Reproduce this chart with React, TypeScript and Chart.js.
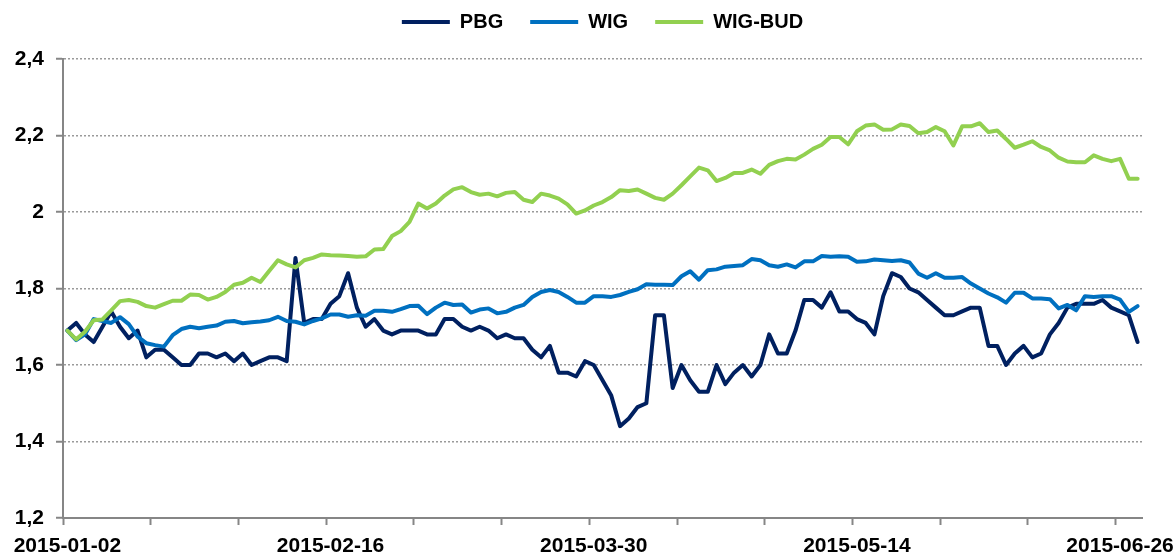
import React, { useEffect, useRef } from "react";
import { Chart, registerables } from "chart.js";

Chart.register(...registerables);

// Trading days (categories)
const dates: string[] = [
  "2015-01-02", "2015-01-05", "2015-01-07", "2015-01-08", "2015-01-09", "2015-01-12", "2015-01-13", "2015-01-14",
  "2015-01-15", "2015-01-16", "2015-01-19", "2015-01-20", "2015-01-21", "2015-01-22", "2015-01-23", "2015-01-26",
  "2015-01-27", "2015-01-28", "2015-01-29", "2015-01-30",
  "2015-02-02", "2015-02-03", "2015-02-04", "2015-02-05", "2015-02-06", "2015-02-09", "2015-02-10", "2015-02-11",
  "2015-02-12", "2015-02-13", "2015-02-16", "2015-02-17", "2015-02-18", "2015-02-19", "2015-02-20", "2015-02-23",
  "2015-02-24", "2015-02-25", "2015-02-26", "2015-02-27",
  "2015-03-02", "2015-03-03", "2015-03-04", "2015-03-05", "2015-03-06", "2015-03-09", "2015-03-10", "2015-03-11",
  "2015-03-12", "2015-03-13", "2015-03-16", "2015-03-17", "2015-03-18", "2015-03-19", "2015-03-20", "2015-03-23",
  "2015-03-24", "2015-03-25", "2015-03-26", "2015-03-27", "2015-03-30", "2015-03-31",
  "2015-04-01", "2015-04-02", "2015-04-07", "2015-04-08", "2015-04-09", "2015-04-10", "2015-04-13", "2015-04-14",
  "2015-04-15", "2015-04-16", "2015-04-17", "2015-04-20", "2015-04-21", "2015-04-22", "2015-04-23", "2015-04-24",
  "2015-04-27", "2015-04-28", "2015-04-29", "2015-04-30",
  "2015-05-04", "2015-05-05", "2015-05-06", "2015-05-07", "2015-05-08", "2015-05-11", "2015-05-12", "2015-05-13",
  "2015-05-14", "2015-05-15", "2015-05-18", "2015-05-19", "2015-05-20", "2015-05-21", "2015-05-22", "2015-05-25",
  "2015-05-26", "2015-05-27", "2015-05-28", "2015-05-29",
  "2015-06-01", "2015-06-02", "2015-06-03", "2015-06-05", "2015-06-08", "2015-06-09", "2015-06-10", "2015-06-11",
  "2015-06-12", "2015-06-15", "2015-06-16", "2015-06-17", "2015-06-18", "2015-06-19", "2015-06-22", "2015-06-23",
  "2015-06-24", "2015-06-25", "2015-06-26", "2015-06-29", "2015-06-30",
];

const pbg: number[] = [
  1.69, 1.71, 1.68, 1.66, 1.70, 1.74, 1.70, 1.67, 1.69, 1.62,
  1.64, 1.64, 1.62, 1.60, 1.60, 1.63, 1.63, 1.62, 1.63, 1.61,
  1.63, 1.60, 1.61, 1.62, 1.62, 1.61, 1.88, 1.71, 1.72, 1.72,
  1.76, 1.78, 1.84, 1.75, 1.70, 1.72, 1.69, 1.68, 1.69, 1.69,
  1.69, 1.68, 1.68, 1.72, 1.72, 1.70, 1.69, 1.70, 1.69, 1.67,
  1.68, 1.67, 1.67, 1.64, 1.62, 1.65, 1.58, 1.58, 1.57, 1.61,
  1.60, 1.56, 1.52, 1.44, 1.46, 1.49, 1.50, 1.73, 1.73, 1.54,
  1.60, 1.56, 1.53, 1.53, 1.60, 1.55, 1.58, 1.60, 1.57, 1.60,
  1.68, 1.63, 1.63, 1.69, 1.77, 1.77, 1.75, 1.79, 1.74, 1.74,
  1.72, 1.71, 1.68, 1.78, 1.84, 1.83, 1.80, 1.79, 1.77, 1.75,
  1.73, 1.73, 1.74, 1.75, 1.75, 1.65, 1.65, 1.60, 1.63, 1.65,
  1.62, 1.63, 1.68, 1.71, 1.75, 1.76, 1.76, 1.76, 1.77, 1.75,
  1.74, 1.73, 1.66,
];

const wig: number[] = [
  1.690, 1.665, 1.680, 1.720, 1.715, 1.710, 1.725, 1.707, 1.674, 1.657,
  1.652, 1.648, 1.678, 1.694, 1.700, 1.696, 1.700, 1.703, 1.713, 1.715,
  1.709, 1.712, 1.714, 1.717, 1.726, 1.715, 1.713, 1.706, 1.715, 1.722,
  1.732, 1.732, 1.726, 1.730, 1.729, 1.742, 1.742, 1.739, 1.746, 1.754,
  1.755, 1.733, 1.750, 1.763, 1.757, 1.758, 1.737, 1.745, 1.748, 1.735,
  1.739, 1.750, 1.757, 1.778, 1.791, 1.796, 1.791, 1.778, 1.763, 1.763,
  1.780, 1.780, 1.778, 1.783, 1.791, 1.798, 1.811, 1.810, 1.810, 1.809,
  1.832, 1.845, 1.823, 1.848, 1.850, 1.857, 1.859, 1.861, 1.877, 1.874,
  1.861, 1.857, 1.863, 1.855, 1.871, 1.871, 1.885, 1.883, 1.884, 1.883,
  1.870, 1.871, 1.876, 1.874, 1.872, 1.874, 1.868, 1.839, 1.828, 1.840,
  1.828, 1.828, 1.830, 1.813, 1.800, 1.787, 1.777, 1.763, 1.789, 1.789,
  1.774, 1.774, 1.772, 1.748, 1.757, 1.743, 1.780, 1.778, 1.780, 1.780,
  1.771, 1.739, 1.754,
];

const wigBud: number[] = [
  1.690, 1.667, 1.687, 1.717, 1.719, 1.743, 1.767, 1.770, 1.765, 1.754,
  1.750, 1.759, 1.768, 1.768, 1.784, 1.783, 1.771, 1.778, 1.791, 1.810,
  1.815, 1.828, 1.817, 1.846, 1.874, 1.863, 1.855, 1.874, 1.880, 1.889,
  1.887, 1.886, 1.885, 1.883, 1.884, 1.902, 1.903, 1.937, 1.950, 1.974,
  2.022, 2.009, 2.022, 2.043, 2.059, 2.065, 2.052, 2.045, 2.048, 2.041,
  2.050, 2.052, 2.032, 2.026, 2.048, 2.043, 2.035, 2.020, 1.996, 2.004,
  2.017, 2.026, 2.039, 2.057, 2.055, 2.059, 2.048, 2.037, 2.032, 2.048,
  2.070, 2.093, 2.116, 2.109, 2.081, 2.089, 2.102, 2.102, 2.111, 2.100,
  2.123, 2.133, 2.139, 2.137, 2.150, 2.165, 2.176, 2.196, 2.196, 2.177,
  2.211, 2.226, 2.229, 2.215, 2.216, 2.229, 2.225, 2.206, 2.209, 2.222,
  2.211, 2.174, 2.224, 2.224, 2.232, 2.209, 2.213, 2.191, 2.168, 2.176,
  2.185, 2.170, 2.161, 2.142, 2.132, 2.130, 2.130, 2.148, 2.139, 2.133,
  2.139, 2.087, 2.087,
];

const seriesNames: string[] = ["PBG", "WIG", "WIG-BUD"];
const seriesColors: string[] = ["#002060", "#0070C0", "#92D050"];
const yTickValues: number[] = [1.2, 1.4, 1.6, 1.8, 2.0, 2.2, 2.4];
const xTickEvery = 10;
const xLabelEvery = 30;

const FONT = '"Liberation Sans", Arial, Helvetica, sans-serif';
const AXIS_GRAY = "#868686";

export default function App() {
  const canvasRef = useRef<HTMLCanvasElement | null>(null);

  useEffect(() => {
    document.body.style.margin = "0";
    const canvas = canvasRef.current;
    if (!canvas) return;

    const legendPlacer = {
      id: "legendPlacer",
      beforeInit(chart: any) {
        const legend = chart.legend;
        if (!legend) return;
        const fit = legend.fit;
        legend.fit = function () {
          fit.call(this);
          this.height = 59;
        };
      },
      afterLayout(chart: any) {
        const legend = chart.legend;
        const area = chart.chartArea;
        if (!legend || !area) return;
        legend.left = area.left;
        legend.right = area.right;
        legend.top = -15;
      },
    };

    const chart = new Chart(canvas, {
      type: "line",
      data: {
        labels: dates,
        datasets: [pbg, wig, wigBud].map((d, k) => ({
          label: seriesNames[k],
          data: d,
          borderColor: seriesColors[k],
          backgroundColor: seriesColors[k],
          borderWidth: 4,
          pointRadius: 0,
          pointHoverRadius: 0,
          tension: 0,
          borderJoinStyle: "round" as const,
          borderCapStyle: "round" as const,
          order: 2 - k,
        })),
      },
      options: {
        animation: false,
        responsive: true,
        maintainAspectRatio: false,
        layout: { padding: { top: 0, right: 32, left: 0, bottom: 0 } },
        plugins: {
          tooltip: { enabled: false },
          legend: {
            position: "top",
            labels: {
              usePointStyle: true,
              pointStyle: "line",
              pointStyleWidth: 48,
              color: "#000",
              padding: 27,
              font: { family: FONT, size: 20, weight: "bold" },
              sort: (a: any, b: any) => a.datasetIndex - b.datasetIndex,
            },
          },
        },
        scales: {
          x: {
            type: "category",
            offset: true,
            grid: {
              offset: true,
              drawOnChartArea: false,
              drawTicks: true,
              tickLength: 7,
              tickWidth: 2,
              tickColor: (ctx: any) =>
                ctx.index % xTickEvery === 0 ? AXIS_GRAY : "rgba(0,0,0,0)",
            },
            border: { display: true, color: AXIS_GRAY, width: 2 },
            ticks: {
              autoSkip: false,
              maxRotation: 0,
              minRotation: 0,
              padding: 9,
              color: "#000",
              font: { family: FONT, size: 21, weight: "bold" },
              callback: (_v: any, index: number) =>
                index % xLabelEvery === 0 ? dates[index] : "",
            },
            afterFit: (scale: any) => {
              scale.height = 38;
            },
          },
          y: {
            type: "linear",
            min: 1.2,
            max: 2.4,
            afterBuildTicks: (scale: any) => {
              scale.ticks = yTickValues.map((v) => ({ value: v }));
            },
            grid: {
              color: "#9a9a9a",
              lineWidth: 1.5,
              drawTicks: true,
              tickLength: 7,
              tickWidth: 2,
              tickColor: AXIS_GRAY,
            },
            border: { display: true, color: AXIS_GRAY, width: 2, dash: [2, 2] },
            ticks: {
              padding: 12,
              color: "#000",
              font: { family: FONT, size: 21, weight: "bold" },
              callback: (v: any) =>
                Number(v).toFixed(1).replace(/\.0$/, "").replace(".", ","),
            },
            afterFit: (scale: any) => {
              scale.width = 63;
            },
          },
        },
      },
      plugins: [legendPlacer],
    } as any);

    return () => chart.destroy();
  }, []);

  return (
    <div style={{ width: 1174, height: 556, position: "relative" }}>
      <canvas ref={canvasRef} />
    </div>
  );
}
